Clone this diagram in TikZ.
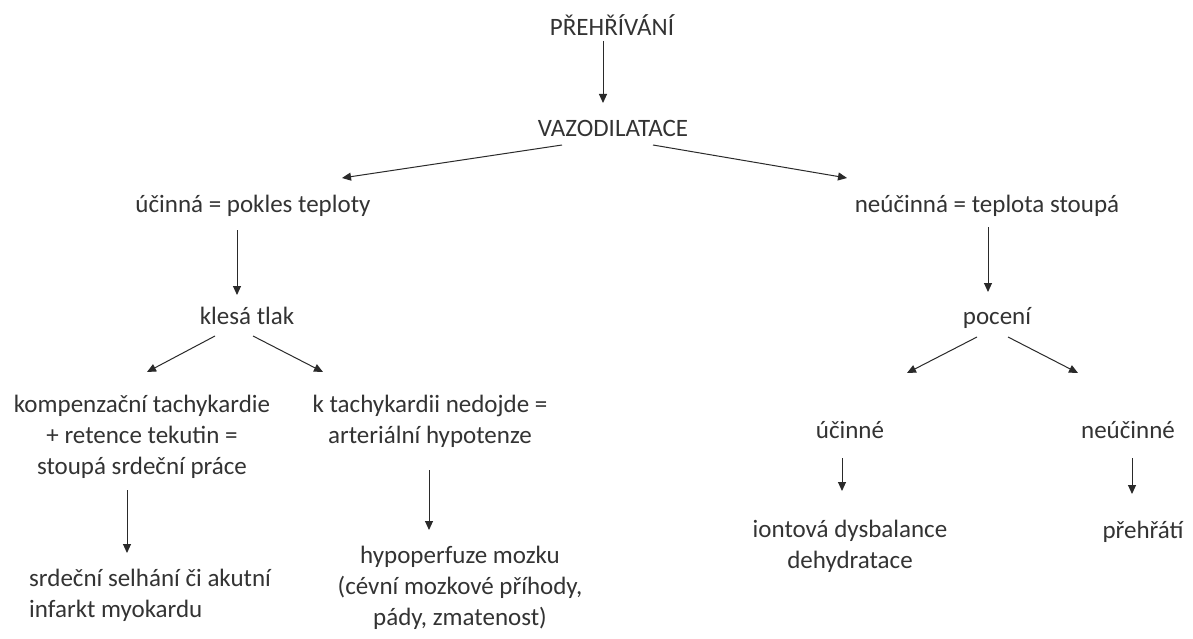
\documentclass[tikz,border=0pt]{standalone}
\usepackage{fontspec}
\setmainfont{Carlito}
\usetikzlibrary{arrows.meta,calc}
\definecolor{txt}{HTML}{333333}
\definecolor{ln}{HTML}{2A2A2A}
\begin{document}
\begin{tikzpicture}[x=1pt,y=-1pt,
  lbl/.style={inner sep=0pt,text=txt,font=\fontsize{25}{31}\selectfont,align=center},
  arr/.style={draw=ln,line width=1pt,-{Triangle[length=9pt,width=8pt]}}]
\useasboundingbox (0,0) rectangle (1193,639);
\fill[white] (0,0) rectangle (1193,639);
\node[lbl] (p) at (612,25) {PŘEHŘÍVÁNÍ};
\node[lbl] (vazo) at (613,128) {VAZODILATACE};
\node[lbl] (ucinna) at (253,206) {účinná = pokles teploty};
\node[lbl] (neucinna) at (987,206) {neúčinná = teplota stoupá};
\node[lbl] (klesa) at (247,316) {klesá tlak};
\node[lbl] (poceni) at (997,318) {pocení};
\node[lbl] (komp) at (142,437) {kompenzační tachykardie\\+ retence tekutin =\\stoupá srdeční práce};
\node[lbl] (ktach) at (430,421) {k tachykardii nedojde =\\arteriální hypotenze};
\node[lbl] (ucinne) at (850,430) {účinné};
\node[lbl] (neucinne) at (1128,430) {neúčinné};
\node[lbl,align=left,anchor=west] (srdce) at (29,595) {srdeční selhání či akutní\\infarkt myokardu};
\node[lbl] (hypo) at (460,588) {hypoperfuze mozku\\(cévní mozkové příhody,\\pády, zmatenost)};
\node[lbl] (iont) at (850,546) {iontová dysbalance\\dehydratace};
\node[lbl] (prehrati) at (1143,532) {přehřátí};

\draw[arr] ($(p)+(-9,16)$) -- ($(vazo)+(-10,-25)$);
\draw[arr] ($(vazo)+(-51,17)$) -- ($(ucinna)+(89,-28)$);
\draw[arr] ($(vazo)+(40,17)$) -- ($(neucinna)+(-140,-28)$);
\draw[arr] ($(ucinna)+(-16,24)$) -- ($(klesa)+(-10,-21)$);
\draw[arr] ($(neucinna)+(1,21)$) -- ($(poceni)+(-9,-26)$);
\draw[arr] ($(klesa)+(-32,20)$) -- ($(komp)+(5,-65)$);
\draw[arr] ($(klesa)+(6,20)$) -- ($(ktach)+(-107,-49)$);
\draw[arr] ($(poceni)+(-20,19)$) -- ($(ucinne)+(57,-57)$);
\draw[arr] ($(poceni)+(11,19)$) -- ($(neucinne)+(-50,-57)$);
\draw[arr] ($(komp)+(-15,53)$) -- ($(srdce.west)+(98,-42)$);
\draw[arr] ($(ktach)+(-1,49)$) -- ($(hypo)+(-31,-58)$);
\draw[arr] ($(ucinne)+(-8,28)$) -- ($(iont)+(-8,-55)$);
\draw[arr] ($(neucinne)+(4,28)$) -- ($(prehrati)+(-11,-38)$);
\end{tikzpicture}
\end{document}
